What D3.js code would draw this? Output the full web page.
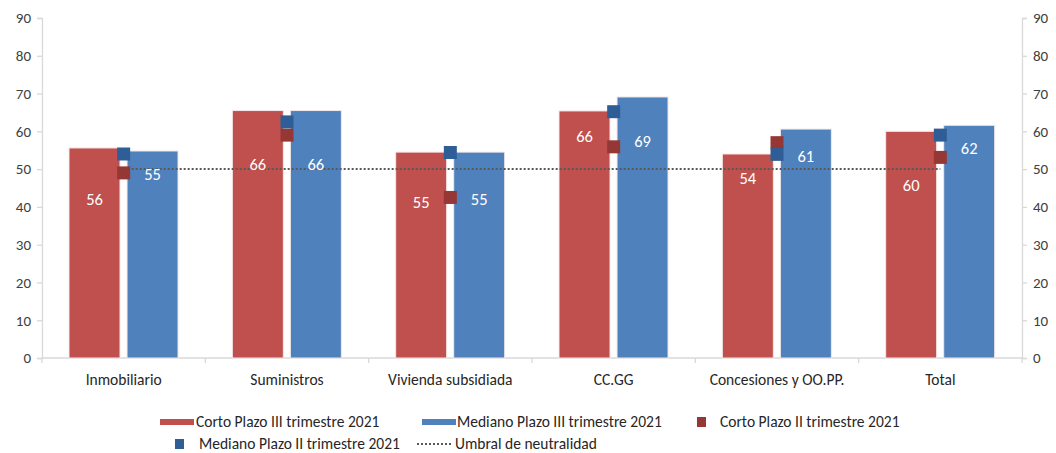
<!DOCTYPE html>
<html><head><meta charset="utf-8">
<script src="https://cdn.jsdelivr.net/npm/d3@7"></script>
<style>
html,body{margin:0;padding:0;background:#fff;}
svg text{font-family:Carlito,Calibri,Lato,"Liberation Sans",sans-serif;}
</style></head>
<body>
<svg id="chart" width="1056" height="453"></svg>
<script>
const categories = ["Inmobiliario","Suministros","Vivienda subsidiada","CC.GG","Concesiones y OO.PP.","Total"];
const cortoIII   = [55.6, 65.5, 54.5, 65.4, 54.0, 60.0];
const medianoIII = [54.8, 65.5, 54.5, 69.1, 60.6, 61.6];
const cortoII    = [49.0, 59.0, 42.5, 55.9, 57.0, 53.1];
const medianoII  = [54.0, 62.5, 54.4, 65.2, 53.9, 59.0];
const cortoLabels   = [56, 66, 55, 66, 54, 60];
const medianoLabels = [55, 66, 55, 69, 61, 62];
// label anchor values (in data units)
const cortoLabelAt   = [42.1, 51.3, 41.3, 58.7, 47.6, 45.8];
const medianoLabelAt = [48.7, 51.3, 42.1, 57.4, 53.5, 55.6];
const threshold = 50;
const yTicks = [0,10,20,30,40,50,60,70,80,90];
const legendLabels = ["Corto Plazo III trimestre 2021","Mediano Plazo III trimestre 2021","Corto Plazo II trimestre 2021","Mediano Plazo II trimestre 2021","Umbral de neutralidad"];

(function(){
const C = {red:"#C0504D", blue:"#4F81BD", redM:"#953735", blueM:"#2F5E97", axis:"#D9D9D9", text:"#404040", dot:"#595959"};
const svg = d3.select("#chart");
const mL = 42, mR = 1022, mT = 18, mB = 358;

const x0 = d3.scaleBand().domain(categories).range([mL,mR]).padding(0);
const bw = x0.bandwidth();
const x1 = d3.scaleBand().domain(["c","m"]).range([bw*27/163.3, bw*136/163.3]).paddingInner(0.121);
const y = d3.scaleLinear().domain([0,90]).range([mB,mT]);

const yl = svg.append("g").attr("transform",`translate(${mL},0)`)
  .call(d3.axisLeft(y).tickValues(yTicks).tickSize(5).tickPadding(6));
const yr = svg.append("g").attr("transform",`translate(${mR},0)`)
  .call(d3.axisRight(y).tickValues(yTicks).tickSize(5).tickPadding(6));
[yl,yr].forEach(g=>{
  g.select(".domain").attr("stroke",C.axis).attr("stroke-width",1.3);
  g.selectAll(".tick line").attr("stroke",C.axis).attr("stroke-width",1.3);
  g.selectAll(".tick text").attr("fill",C.text).style("font-size","15px");
});
const xa = svg.append("g").attr("transform",`translate(0,${mB})`);
xa.append("line").attr("x1",mL).attr("x2",mR).attr("stroke",C.axis).attr("stroke-width",1.3);
xa.selectAll("line.tk").data(d3.range(categories.length+1)).enter().append("line")
  .attr("class","tk").attr("x1",i=>mL+i*bw).attr("x2",i=>mL+i*bw).attr("y1",0).attr("y2",5)
  .attr("stroke",C.axis).attr("stroke-width",1.3);
xa.selectAll("text").data(categories).enter().append("text")
  .attr("x",d=>x0(d)+bw/2).attr("y",27).attr("text-anchor","middle")
  .attr("fill","#262626").style("font-size","15.5px").text(d=>d);

const g = svg.append("g");
categories.forEach((cat,i)=>{
  const gg = g.append("g").attr("transform",`translate(${x0(cat)},0)`);
  [["c",cortoIII[i],C.red],["m",medianoIII[i],C.blue]].forEach(([k,v,col])=>{
    gg.append("rect").attr("x",x1(k)).attr("width",x1.bandwidth())
      .attr("y",y(v)).attr("height",y(0)-y(v)).attr("fill",col)
      .attr("stroke","#f4e8e8").attr("stroke-width",1);
  });
});

svg.append("line")
  .attr("x1",x0(categories[0])+bw/2).attr("x2",x0(categories[categories.length-1])+bw/2)
  .attr("y1",y(threshold)).attr("y2",y(threshold))
  .attr("stroke",C.dot).attr("stroke-width",2).attr("stroke-dasharray","2,2");

const ms = 13;
categories.forEach((cat,i)=>{
  const cx = x0(cat)+bw/2;
  svg.append("rect").attr("x",cx-ms/2).attr("y",y(cortoII[i])-ms/2).attr("width",ms).attr("height",ms).attr("fill",C.redM);
});
categories.forEach((cat,i)=>{
  const cx = x0(cat)+bw/2;
  svg.append("rect").attr("x",cx-ms/2).attr("y",y(medianoII[i])-ms/2).attr("width",ms).attr("height",ms).attr("fill",C.blueM);
});

categories.forEach((cat,i)=>{
  [["c",cortoLabels[i],cortoLabelAt[i]],["m",medianoLabels[i],medianoLabelAt[i]]].forEach(([k,lab,at])=>{
    svg.append("text").attr("x",x0(cat)+x1(k)+x1.bandwidth()/2).attr("y",y(at))
      .attr("dy","0.35em").attr("text-anchor","middle").attr("fill","#fff")
      .style("font-size","16.5px").text(lab);
  });
});

const lg = svg.append("g").style("font-size","15.5px");
function legText(x,yy,t){ lg.append("text").attr("x",x).attr("y",yy).attr("dy","0.35em").attr("fill","#262626").text(t); }
const r1 = 422, r2 = 444;
lg.append("rect").attr("x",160).attr("y",r1-3).attr("width",34).attr("height",6).attr("fill",C.red);
legText(196,r1,legendLabels[0]);
lg.append("rect").attr("x",422).attr("y",r1-3).attr("width",34).attr("height",6).attr("fill",C.blue);
legText(457,r1,legendLabels[1]);
lg.append("rect").attr("x",697).attr("y",r1-5).attr("width",9).attr("height",10).attr("fill",C.redM);
legText(720,r1,legendLabels[2]);
lg.append("rect").attr("x",175).attr("y",r2-5).attr("width",9).attr("height",10).attr("fill",C.blueM);
legText(199,r2,legendLabels[3]);
lg.append("line").attr("x1",417).attr("x2",451).attr("y1",r2).attr("y2",r2)
  .attr("stroke",C.dot).attr("stroke-width",2).attr("stroke-dasharray","2,2");
legText(455,r2,legendLabels[4]);
})();
</script>
</body></html>
